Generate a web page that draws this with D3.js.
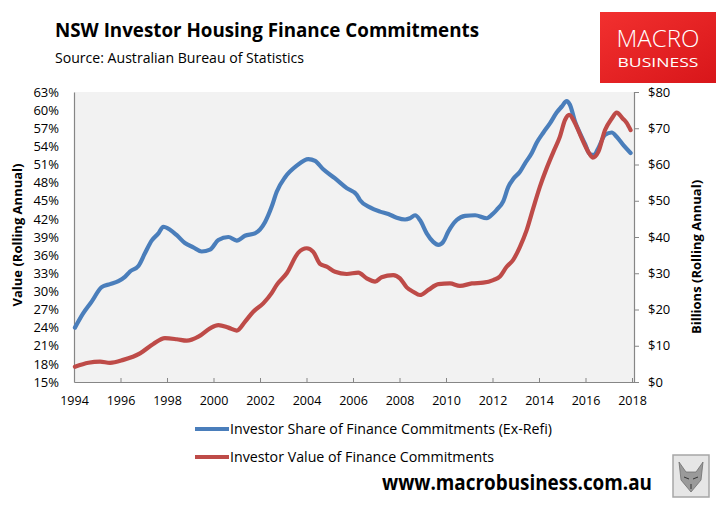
<!DOCTYPE html>
<html><head><meta charset="utf-8">
<script src="https://cdn.jsdelivr.net/npm/d3@7"></script>
<style>
html,body{margin:0;padding:0;background:#fff;}
svg{display:block;}
text{font-family:"Open Sans","Noto Sans",sans-serif;}
</style></head>
<body>
<svg id="chart" width="724" height="509"></svg>
<script>
// ---- data ----
const xTicks = [1994,1996,1998,2000,2002,2004,2006,2008,2010,2012,2014,2016,2018];
const leftTicks = [15,18,21,24,27,30,33,36,39,42,45,48,51,54,57,60,63];
const rightTicks = [0,10,20,30,40,50,60,70,80];

const shareDates = [1994.04,1994.40,1994.76,1995.19,1995.55,1995.91,1996.19,1996.41,1996.77,1997.05,1997.34,1997.63,1997.84,1998.13,1998.42,1998.77,1999.13,1999.49,1999.85,2000.21,2000.64,2001.00,2001.35,2001.78,2002.22,2002.50,2002.72,2003.08,2003.58,2004.08,2004.37,2004.72,2005.23,2005.73,2006.16,2006.30,2006.73,2007.16,2007.52,2007.88,2008.24,2008.45,2008.67,2008.88,2009.17,2009.45,2009.67,2009.88,2010.10,2010.46,2010.82,2011.25,2011.75,2012.03,2012.18,2012.46,2012.68,2012.89,2013.18,2013.40,2013.69,2013.90,2014.19,2014.47,2014.76,2014.98,2015.19,2015.33,2015.55,2015.76,2015.98,2016.19,2016.37,2016.55,2016.84,2017.13,2017.34,2017.63,2017.94];
const shareValues = [24.0,26.4,28.3,30.7,31.2,31.7,32.4,33.3,34.2,36.3,38.4,39.6,40.7,40.2,39.3,38.0,37.3,36.6,36.9,38.5,39.0,38.4,39.2,39.6,41.5,44.0,46.5,48.9,50.8,51.9,51.6,50.2,48.7,47.1,46.0,45.1,43.9,43.2,42.8,42.2,41.9,42.1,42.6,41.8,39.6,38.2,37.7,38.2,39.9,41.8,42.5,42.6,42.1,42.9,43.5,44.9,47.3,48.6,49.8,51.2,52.9,54.6,56.3,57.8,59.6,60.6,61.5,60.9,58.1,56.2,54.4,52.7,52.6,53.7,55.9,56.3,55.6,54.2,52.9];

const valueDates = [1994.04,1994.62,1995.12,1995.55,1996.12,1996.84,1997.41,1997.91,1998.42,1998.85,1999.35,1999.85,2000.21,2000.64,2001.00,2001.35,2001.71,2002.14,2002.50,2002.72,2003.15,2003.65,2004.01,2004.29,2004.58,2004.87,2005.23,2005.73,2006.23,2006.59,2006.95,2007.23,2007.73,2008.02,2008.31,2008.59,2008.88,2009.24,2009.67,2010.17,2010.60,2011.11,2011.60,2012.03,2012.32,2012.61,2012.89,2013.18,2013.47,2013.75,2014.04,2014.33,2014.62,2014.90,2015.12,2015.30,2015.55,2015.84,2016.12,2016.31,2016.55,2016.84,2017.13,2017.34,2017.60,2017.77,2017.94];
const valueValues = [4.2,5.3,5.6,5.3,6.1,7.9,10.5,12.1,11.8,11.4,12.5,14.8,15.7,15.0,14.2,16.6,19.4,21.7,24.5,26.8,30.0,35.7,36.9,35.9,32.6,31.8,30.4,29.8,30.2,28.6,27.7,28.9,29.5,28.6,26.1,24.9,24.0,25.4,27.0,27.2,26.5,27.2,27.4,28.1,29.1,31.8,33.7,37.3,41.9,47.9,53.9,59.0,63.5,67.7,72.3,73.7,71.4,67.2,63.5,61.9,63.5,69.5,72.7,74.3,72.7,71.5,69.5];

const titleText = "NSW Investor Housing Finance Commitments";
const sourceText = "Source: Australian Bureau of Statistics";
const leftTitle = "Value (Rolling Annual)";
const rightTitle = "Billions (Rolling Annual)";
const seriesNames = ["Investor Share of Finance Commitments (Ex-Refi)","Investor Value of Finance Commitments"];
const seriesColors = ["#4a7ebb","#be4b48"];

// ---- layout ----
const svg = d3.select("#chart");
const L = 74, R = 634, T = 92, B = 382;
const x = d3.scaleLinear().domain([1994, 2018.086]).range([L, R]);
const yL = d3.scaleLinear().domain([15, 63]).range([B, T]);
const yR = d3.scaleLinear().domain([0, 80]).range([B, T]);

// title & source
svg.append("text").attr("x",55).attr("y",37).attr("font-size",20).attr("font-weight","bold")
  .attr("fill","#000").attr("textLength",424).attr("lengthAdjust","spacingAndGlyphs").text(titleText);
svg.append("text").attr("x",55).attr("y",63).attr("font-size",14.5).attr("fill","#000")
  .attr("textLength",249).attr("lengthAdjust","spacingAndGlyphs").text(sourceText);

// logo
const defs = svg.append("defs");
const g1 = defs.append("linearGradient").attr("id","logoGrad").attr("x1","0").attr("y1","0").attr("x2","1").attr("y2","1");
g1.append("stop").attr("offset","0%").attr("stop-color","#f2302f");
g1.append("stop").attr("offset","100%").attr("stop-color","#d8161a");
svg.append("rect").attr("x",600).attr("y",12).attr("width",116).attr("height",71).attr("fill","url(#logoGrad)");
svg.append("text").attr("x",658).attr("y",47).attr("text-anchor","middle").attr("font-size",24)
  .attr("font-family","Roboto, 'Open Sans', sans-serif").attr("font-weight",300).attr("fill","#fff")
  .attr("textLength",83).attr("lengthAdjust","spacingAndGlyphs").text("MACRO");
svg.append("text").attr("x",658).attr("y",67).attr("text-anchor","middle").attr("font-size",13)
  .attr("font-family","Roboto, 'Open Sans', sans-serif").attr("font-weight",400).attr("fill","#fff")
  .attr("textLength",81).attr("lengthAdjust","spacingAndGlyphs").text("BUSINESS");

// plot background
svg.append("rect").attr("x",L).attr("y",T).attr("width",R-L).attr("height",B-T).attr("fill","#f2f2f2");

// axes
const axisColor = "#868686";
const gLeft = svg.append("g").attr("transform",`translate(${L},0)`)
  .call(d3.axisLeft(yL).tickValues(leftTicks).tickSize(0).tickPadding(15).tickFormat(d => d + "%"));
const gRight = svg.append("g").attr("transform",`translate(${R},0)`)
  .call(d3.axisRight(yR).tickValues(rightTicks).tickSize(5).tickPadding(9).tickFormat(d => "$" + d));
const gBottom = svg.append("g").attr("transform",`translate(0,${B})`)
  .call(d3.axisBottom(x).tickValues(xTicks).tickSizeInner(-4).tickSizeOuter(0).tickPadding(14).tickFormat(d3.format("d")));
[gLeft,gRight,gBottom].forEach(g => {
  g.select(".domain").attr("stroke",axisColor).attr("stroke-width",1.2);
  g.selectAll(".tick line").attr("stroke",axisColor);
  g.selectAll(".tick text").attr("fill","#000").attr("font-size",13)
    .attr("font-family","'Open Sans','Noto Sans',sans-serif");
});
gBottom.selectAll(".tick text").attr("font-size",12.5);

// axis titles
svg.append("text").attr("transform","translate(22,235) rotate(-90)").attr("text-anchor","middle")
  .attr("font-size",13).attr("font-weight","bold").attr("fill","#000").text(leftTitle);
svg.append("text").attr("transform","translate(701,257) rotate(-90)").attr("text-anchor","middle")
  .attr("font-size",13).attr("font-weight","bold").attr("fill","#000").text(rightTitle);

// lines
const lineShare = d3.line().x(d => x(d[0])).y(d => yL(d[1])).curve(d3.curveMonotoneX);
const lineValue = d3.line().x(d => x(d[0])).y(d => yR(d[1])).curve(d3.curveMonotoneX);
const shareData = shareDates.map((d,i) => [d, shareValues[i]]);
const valueData = valueDates.map((d,i) => [d, valueValues[i]]);
svg.append("path").datum(shareData).attr("d",lineShare).attr("fill","none")
  .attr("stroke",seriesColors[0]).attr("stroke-width",4.2).attr("stroke-linejoin","round").attr("stroke-linecap","round");
svg.append("path").datum(valueData).attr("d",lineValue).attr("fill","none")
  .attr("stroke",seriesColors[1]).attr("stroke-width",4.2).attr("stroke-linejoin","round").attr("stroke-linecap","round");

// legend
const legY = [429, 457];
const legW = [322, 264];
seriesNames.forEach((name,i) => {
  svg.append("line").attr("x1",195).attr("x2",229).attr("y1",legY[i]).attr("y2",legY[i])
    .attr("stroke",seriesColors[i]).attr("stroke-width",4.2);
  svg.append("text").attr("x",230).attr("y",legY[i]+5).attr("font-size",14.5).attr("fill","#000")
    .attr("textLength",legW[i]).attr("lengthAdjust","spacingAndGlyphs").text(name);
});

// website
svg.append("text").attr("x",382).attr("y",490).attr("font-size",21).attr("font-weight","bold")
  .attr("fill","#000").attr("textLength",270).attr("lengthAdjust","spacingAndGlyphs").text("www.macrobusiness.com.au");

// small wolf badge
svg.append("rect").attr("x",673).attr("y",455).attr("width",36).attr("height",42)
  .attr("fill","#e6e6e6").attr("stroke","#a6a6a6").attr("stroke-width",1.5);
svg.append("path").attr("d","M679,462 L686,472 L696,472 L703,462 L701,480 L691,492 L681,480 Z")
  .attr("fill","#9a9a9a").attr("stroke","#6e6e6e").attr("stroke-width",0.8);
svg.append("path").attr("d","M684,477 L689,479 M698,477 L693,479 M691,484 L691,489")
  .attr("stroke","#333").attr("stroke-width",1);
</script>
</body></html>
